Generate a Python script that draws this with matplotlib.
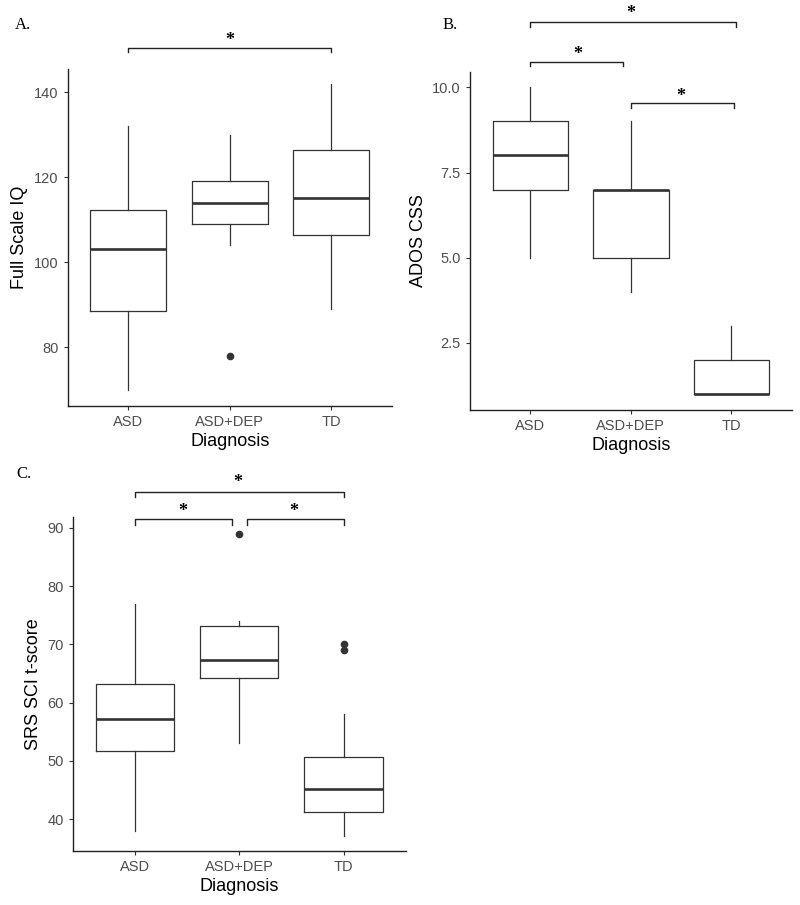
import matplotlib
matplotlib.use("Agg")
import matplotlib.pyplot as plt

plt.rcParams['font.family'] = ['Liberation Sans', 'DejaVu Sans']

categories = ["ASD", "ASD+DEP", "TD"]

# Panel A: Full Scale IQ  (whislo, q1, med, q3, whishi)
iq_whislo = [70, 104, 89]
iq_q1 = [88.5, 109, 106.5]
iq_med = [103, 114, 115]
iq_q3 = [112.2, 119, 126.4]
iq_whishi = [132, 130, 142]
iq_fliers = [[], [78], []]
iq_ticks = [80, 100, 120, 140]

# Panel B: ADOS CSS
ados_whislo = [5, 4, 1]
ados_q1 = [7, 5, 1]
ados_med = [8, 7, 1]
ados_q3 = [9, 7, 2]
ados_whishi = [10, 9, 3]
ados_fliers = [[], [], []]
ados_ticks = [2.5, 5.0, 7.5, 10.0]
ados_ticklabels = ["2.5", "5.0", "7.5", "10.0"]

# Panel C: SRS SCI t-score
srs_whislo = [38, 53, 37]
srs_q1 = [51.7, 64.2, 41.2]
srs_med = [57.2, 67.3, 45.2]
srs_q3 = [63.2, 73.2, 50.7]
srs_whishi = [77, 74, 58]
srs_fliers = [[], [89], [70, 69]]
srs_ticks = [40, 50, 60, 70, 80, 90]

# significance brackets: (x_start, x_end, y, tick_len, star_x, star_y)
iq_brackets = [(1, 3, 150.4, 0.8, 2, 152.1)]
ados_brackets = [(1, 3.05, 11.93, 0.15, 2.0, 12.16),
                 (1.0, 1.92, 10.75, 0.13, 1.47, 10.96),
                 (2.0, 3.03, 9.55, 0.15, 2.5, 9.73)]
srs_brackets = [(1, 3, 96.2, 0.85, 1.98, 97.7),
                (1, 1.93, 91.5, 1.0, 1.46, 92.8),
                (2.07, 3, 91.5, 1.0, 2.52, 92.8)]

box_col = "#333333"
tick_col = "#4D4D4D"

fig = plt.figure(figsize=(8, 9.05), dpi=100)


def panel(rect, whislo, q1, med, q3, whishi, fliers, ylim, yticks, yticklabels,
          ylabel, brackets, letter, letter_xy):
    ax = fig.add_axes(rect)
    stats = []
    for i in range(len(categories)):
        stats.append(dict(whislo=whislo[i], q1=q1[i], med=med[i], q3=q3[i],
                          whishi=whishi[i], fliers=fliers[i]))
    ax.bxp(stats, positions=[1, 2, 3], widths=0.75, showcaps=False,
           boxprops=dict(color=box_col, linewidth=0.9),
           whiskerprops=dict(color=box_col, linewidth=0.9),
           medianprops=dict(color=box_col, linewidth=1.9, solid_capstyle='butt'),
           flierprops=dict(marker='o', markerfacecolor=box_col,
                           markeredgecolor=box_col, markersize=4.5))
    ax.set_xlim(0.4, 3.6)
    ax.set_ylim(*ylim)
    ax.set_xticks([1, 2, 3])
    ax.set_xticklabels(categories)
    ax.set_yticks(yticks)
    ax.set_yticklabels(yticklabels)
    for s in ['top', 'right']:
        ax.spines[s].set_visible(False)
    for s in ['left', 'bottom']:
        ax.spines[s].set_color('#222222')
        ax.spines[s].set_linewidth(1.0)
    ax.tick_params(axis='both', colors=box_col, labelcolor=tick_col,
                   labelsize=10.5, length=3, width=0.8)
    ax.set_xlabel("Diagnosis", fontsize=13, color='black', labelpad=3)
    ax.set_ylabel(ylabel, fontsize=13, color='black', labelpad=4)
    for (x0, x1, y, tl, sx, sy) in brackets:
        ax.plot([x0, x0, x1, x1], [y - tl, y, y, y - tl], color='#222222',
                linewidth=1.0, clip_on=False)
        ax.text(sx, sy, "*", ha='center', va='center', fontsize=13,
                family='Liberation Serif', fontweight='bold', clip_on=False)
    fig.text(letter_xy[0], letter_xy[1], letter, family='Liberation Serif',
             fontsize=12, ha='left', va='center')
    return ax


panel([0.0846, 0.5517, 0.4054, 0.3721], iq_whislo, iq_q1, iq_med, iq_q3,
      iq_whishi, iq_fliers, (66.2, 145.5), iq_ticks,
      [str(t) for t in iq_ticks], "Full Scale IQ", iq_brackets, "A.",
      (15 / 800, 1 - 25 / 905))

panel([0.5875, 0.547, 0.4021, 0.3738], ados_whislo, ados_q1, ados_med,
      ados_q3, ados_whishi, ados_fliers, (0.53, 10.46), ados_ticks,
      ados_ticklabels, "ADOS CSS", ados_brackets, "B.",
      (443 / 800, 1 - 25 / 905))

panel([0.0909, 0.06, 0.4166, 0.3684], srs_whislo, srs_q1, srs_med, srs_q3,
      srs_whishi, srs_fliers, (34.56, 91.8), srs_ticks,
      [str(t) for t in srs_ticks], "SRS SCI t-score", srs_brackets, "C.",
      (16 / 800, 1 - 474 / 905))

fig.savefig("out.png", dpi=100)
